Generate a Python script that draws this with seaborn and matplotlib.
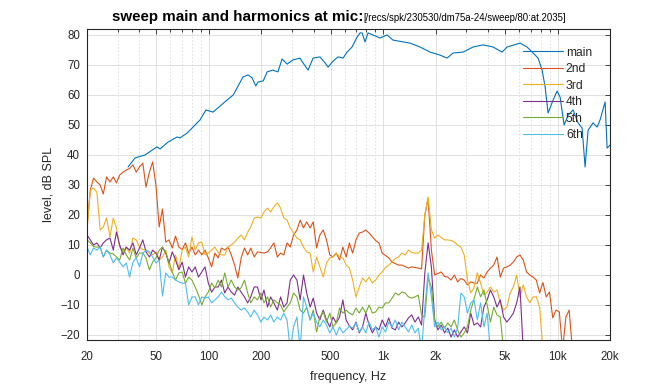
import matplotlib
matplotlib.use("Agg")
import matplotlib.pyplot as plt
import seaborn as sns
import pandas as pd
import numpy as np

# 1/16-octave frequency grid used by the harmonic traces, Hz
freq_grid = [
    20.0, 20.9, 21.8, 22.8, 23.8, 24.8, 25.9, 27.1, 28.3, 29.5, 30.8, 32.2, 33.6, 35.1, 36.7, 38.3,
    40.0, 41.8, 43.6, 45.6, 47.6, 49.7, 51.9, 54.2, 56.6, 59.1, 61.7, 64.4, 67.3, 70.3, 73.4, 76.6,
    80.0, 83.5, 87.2, 91.1, 95.1, 99.3, 103.7, 108.3, 113.1, 118.1, 123.4, 128.8, 134.5, 140.5, 146.7, 153.2,
    160, 167, 174, 182, 190, 199, 207, 217, 226, 236, 247, 258, 269, 281, 293, 306,
    320, 334, 349, 364, 381, 397, 415, 433, 453, 473, 494, 515, 538, 562, 587, 613,
    640, 668, 698, 729, 761, 795, 830, 867, 905, 945, 987, 1031, 1076, 1124, 1174, 1226,
    1280, 1337, 1396, 1458, 1522, 1590, 1660, 1733, 1810, 1890, 1974, 2061, 2153, 2248, 2348, 2451,
    2560, 2673, 2792, 2915, 3044, 3179, 3320, 3467, 3620, 3781, 3948, 4123, 4305, 4496, 4695, 4903,
    5120, 5347, 5583, 5831, 6089, 6358, 6640, 6934, 7241, 7561, 7896, 8246, 8611, 8992, 9390, 9806,
    10240, 10693, 11167, 11661, 12177, 12717, 13280, 13868, 14482, 15123, 15792, 16491, 17222, 17984, 18780, 19612,
]

# main response, own frequency points
main_freq = [
    34.4, 37.7, 43.0, 50.4, 52.5, 58.3, 65.7, 68.3, 75.0, 81.1, 89.0, 96.3, 105.7, 115.9, 127, 138,
    145, 157, 168, 177, 186, 191, 205, 216, 233, 249, 263, 281, 304, 333, 347, 371, 396, 434, 464,
    483, 516, 551, 589, 620, 663, 708, 737, 757, 787, 819, 875, 959, 1052, 1139, 1300, 1426, 1627,
    1858, 2120, 2325, 2517, 2872, 3278, 3742, 4270, 4808, 5137, 5862, 6100, 6690, 7244, 7738, 8158,
    8488, 8830, 9432, 9944, 10346, 10910, 11502, 12288, 13122, 13836, 14392, 14976, 15996, 16866,
    17548, 18746, 19250, 20000,
]
main_level = [
    36.0, 39.0, 40.0, 42.7, 42.0, 44.3, 46.0, 45.7, 47.3, 49.3, 51.7, 55.0, 54.3, 56.3, 58.3, 60.0,
    62.3, 66.0, 66.7, 65.7, 63.0, 64.3, 64.7, 67.7, 68.3, 67.7, 72.0, 70.3, 71.7, 72.3, 70.7, 68.3,
    72.3, 72.7, 70.7, 69.3, 71.3, 72.7, 72.3, 74.3, 76.0, 79.3, 80.7, 80.7, 77.7, 80.7, 80.0, 79.0,
    80.0, 78.3, 77.7, 77.3, 76.0, 74.3, 73.3, 72.3, 74.0, 74.3, 76.0, 76.7, 76.0, 74.3, 76.0, 77.0,
    77.3, 76.0, 74.0, 72.3, 68.3, 62.7, 54.0, 58.3, 61.3, 59.3, 50.0, 53.3, 55.0, 50.7, 49.0, 36.0,
    48.3, 50.7, 49.3, 51.7, 57.7, 42.3, 43.3,
]

# harmonics, values on freq_grid from 20 Hz up (-25 = below the axis)
h2_level = [
    16, 28.3, 32.3, 31, 30, 27, 32.7, 31, 32.7, 30.7,
    33.3, 34.3, 35, 35.5, 36.7, 34.3, 36, 37.3, 29.3, 34.3,
    37.7, 30, 16, 22, 11, 11.7, 9, 13, 9.3, 8.5,
    10.7, 7.3, 9.3, 6.7, 8.3, 6.7, 8.3, 5.7, 2.7, 7.3,
    5.7, 9, 8.3, 9.3, 6.7, 3.3, -1, 5.7, 9, 6.7,
    9, 6, 7.7, 7.5, 7.3, 7.7, 9, 10.7, 6, 7.3,
    6.7, 10.7, 9.3, 13.3, 15, 18.3, 15.7, 17.7, 15.7, 17.7,
    9, 13.3, 15, 11.7, 6.7, 6, 7.3, 5, 9.3, 6,
    10.7, 7.3, 11.7, 14, 14.3, 15, 14, 12.7, 11.5, 10.7,
    7.3, 6.5, 5.7, 4.3, 3.8, 3.3, 3.3, 2.8, 2.3, 2.7,
    2.5, 2.3, 2, 20, 25.5, 8.3, 0, 0.5, 1, -0.5,
    -0.7, -1.7, 0, -2.3, -1.2, -1.7, -3.3, -2.3, -2.7, -2.7,
    0, -1, 1, 2.3, 3.3, 6, -0.7, 2.3, 2.7, 3.3,
    4.3, 6, 6.7, 5, 1, 0, -0.7, -1.7, -6, -2.5,
    -7.3, -5.7, -14.3, -11.7, -12.3, -25, -14, -11.7, -25,
]
h3_level = [
    15, 28.3, 29, 27.5, 15, 16, 19, 12.7, 19, 15.7,
    9.3, 7.7, 9.3, 7.3, 12.3, 11.7, 9.3, 8.5, 8.3, 7.3,
    6.7, 7.7, 5, 6, 8.3, 2.7, 0.7, 6.7, 2.3, 8.3,
    9.3, 6, 12.7, 8.3, 10.7, 11, 6.7, 7.3, 8.3, 9.3,
    7.5, 6.7, 6.7, 9.3, 10, 11, 12.3, 13.3, 11.7, 14.3,
    16, 19, 19.3, 19, 21, 22.3, 21, 22.7, 24, 22.3,
    19, 18.3, 15.7, 14, 12.3, 11.7, 9.3, 7.7, 7.3, 1,
    6, 2.7, -0.7, 4, 5.7, 6, 7.3, 6, 5.7, 3.3,
    2.3, -1.7, -7.3, -4, -1, -2.3, -0.7, -2.7, -1.7, 0,
    1, 2.5, 3.3, 4.3, 5.5, 6, 7.3, 6.7, 8.3, 7.5,
    7.3, 7.3, 8.3, 20, 26, 15, 12.3, 13.3, 12.5, 11.7,
    11.7, 11.5, 11, 10, 9.3, 6.7, -1.7, -6, -4.3, 0.7,
    -2.7, -6.7, -5.7, -4, -5.7, -5, -9.3, -11.7, -10.7, -6,
    -4, 0, -7.3, -3.3, -7.3, -9.3, -7.3, -7.3, -10.7, -25,
]
h4_level = [
    13.3, 11.7, 10, 10.7, 9, 10.7, 11.7, 12.3, 8.3, 14.3,
    10, 6.7, 9.3, 8.3, 10.7, 6.7, 9, 11.7, 7.7, 6,
    8.3, 7.3, 5, 9.3, 7.3, 4, 7.7, 5, 1.7, 4.3,
    -0.7, 2.7, 1, 2.7, -0.7, 1, 2.7, -2.7, -5.7, -4,
    -4, -1.7, -6, -4, -5.7, -6.7, -4, -5.7, -7.3, -9.3,
    -7.3, -4, -4, -8.3, -5, -10.7, -7.3, -9.3, -11.7, -7.3,
    -10.7, -9.3, -1.7, 0, -1.7, -8.3, 0, -6, -10.7, -7.7,
    -12.7, -15, -11.7, -15, -17.3, -14, -16, -14, -8.3, -15,
    -17, -18.3, -15.7, -19.3, -17.3, -12.7, -16.7, -19.3, -17.3, -18.3,
    -15, -17.3, -14.3, -17.7, -18.3, -15.7, -17.3, -16, -14.3, -13.3,
    -15.7, -14, -16.7, 0.7, 10.7, 2.7, -15, -18.3, -16.7, -19.3,
    -17.7, -20.7, -18.3, -20.7, -19, -17.3, -19.3, -12.7, -16.7, -16,
    -17.3, -10.7, -8.3, -5, -7.3, -10.7, -8.3, -14, -15.7, -14.3,
    -12.7, -9.3, -4, -25,
]
h5_level = [
    11.7, 10.7, 9.5, 9.3, 9.3, 6, 8.3, 7.3, 7, 6,
    5, 9, 6.7, 5, 9, 5.7, 7.3, 7.3, 5.7, 1.7,
    4.3, 5.7, 8.3, 9.3, 7.3, 4.3, 1, -1.7, 0.7, 1,
    -2.7, -0.7, -1.7, -4, -6.7, -10, -7.3, -5.7, -2.7, -4.3,
    -1.7, -4, 0.7, -4, -1.7, -4, -5, -4.3, -1.7, -6,
    -9.3, -7.3, -8.3, -6, -9.3, -7.3, -10.7, -8.3, -9.3, -10,
    -12.3, -10.7, -9.3, -6, -7.3, -11.7, -12.7, -10.7, -15, -11.7,
    -19, -14, -12.3, -15.7, -12.7, -17.3, -16, -11, -12.7, -11.7,
    -12.7, -13.3, -11, -12.7, -10.7, -12.7, -10, -12.7, -12.3, -10.7,
    -11, -9.3, -9.3, -7.7, -6, -6.7, -5.7, -6, -7.3, -7.7,
    -7.3, -6.7, -13.3, -14, -1, -4, -15, -17.3, -15.7, -17.7,
    -16, -17.3, -15, -18.3, -20.7, -19.3, -17.3, -11.7, -8, -4,
    -7.3, -5, -10, -15.7, -10.7, -13.3, -14, -25,
]
h6_level = [
    9.3, 6.7, 9, 8.3, 9.3, 6, 8.3, 6.7, 4, 5.7,
    4.3, 2.7, 4, -0.7, 4.3, 5.7, 2.7, 7.3, 8.3, 7.7,
    6, 4, 5, -7, 0.7, -0.7, -0.7, -1.7, -2.3, -2.7,
    -2.7, -10, -7.3, -7.3, -10, -7.3, -7.7, -7.3, -9.3, -8.3,
    -7.3, -5.7, -7.3, -8.3, -7.7, -9.3, -10.7, -11.7, -11, -12.3,
    -14, -11.7, -13.3, -15.7, -14, -15, -13.3, -15.7, -14, -15,
    -12.7, -15, -25, -17.3, -14, -25, -7.3, -10.7, -15, -12.7,
    -15.7, -17.3, -15, -16.7, -19.3, -17.3, -20, -17.3, -19.3, -18.3,
    -17, -17.7, -16, -19, -17.3, -19.3, -15.7, -18.3, -17.3, -20.7,
    -17.3, -19, -15.7, -17.3, -15, -18.3, -15.7, -17.3, -19, -16.7,
    -19.3, -17.7, -25, -10.7, 0.7, -7.3, -17.3, -15.7, -18.3, -17.3,
    -19.3, -17.7, -20.7, -17.7, -6, -7.3, -12.7, -9.3, -8.3, -15,
    -9.3, -17.3, -12.7, -25,
]

series_names = ["main", "2nd", "3rd", "4th", "5th", "6th"]
colors = ["#0072BD", "#D95319", "#EDB120", "#7E2F8E", "#77AC30", "#4DBEEE"]

frames = [pd.DataFrame({"freq": main_freq, "level": main_level, "series": "main"})]
for name, vals in zip(series_names[1:], [h2_level, h3_level, h4_level, h5_level, h6_level]):
    frames.append(pd.DataFrame({"freq": freq_grid[:len(vals)], "level": vals, "series": name}))
df = pd.concat(frames, ignore_index=True)

sns.set_style("white")
plt.rcParams["font.family"] = ["Liberation Sans", "DejaVu Sans"]

fig = plt.figure(figsize=(6.72, 3.84), dpi=100)
ax = fig.add_axes([87 / 672, 1 - 340 / 384, 523 / 672, 311 / 384])
ax.set_xscale("log")

sns.lineplot(data=df, x="freq", y="level", hue="series", hue_order=series_names,
             palette=dict(zip(series_names, colors)), estimator=None, sort=False,
             lw=0.8, legend=False, ax=ax)

ax.set_xlim(20, 20000)
ax.set_ylim(-21.67, 82)

xt = [20, 50, 100, 200, 500, 1000, 2000, 5000, 10000, 20000]
ax.set_xticks(xt)
ax.set_xticklabels(["20", "50", "100", "200", "500", "1k", "2k", "5k", "10k", "20k"])
minor = [m * d for d in [10, 100, 1000, 10000] for m in range(2, 10)
         if 20 < m * d < 20000 and m * d not in xt]
ax.set_xticks(minor, minor=True)
ax.set_xticklabels([], minor=True)
ax.set_yticks(range(-20, 90, 10))

ax.grid(True, which="major", color="#dcdcdc", lw=0.6)
ax.grid(True, which="minor", axis="x", color="#d6d6d6", lw=0.5, ls=(0, (2.5, 2.5)))
ax.set_axisbelow(True)

for s in ax.spines.values():
    s.set_color("#262626")
    s.set_linewidth(0.8)
ax.tick_params(which="both", direction="in", top=True, right=True, colors="#262626",
               labelsize=8.3, width=0.6)
ax.tick_params(which="major", length=3.5)
ax.tick_params(which="minor", length=2)
ax.tick_params(axis="x", which="major", pad=8)
ax.tick_params(axis="y", which="major", pad=5)

ax.set_xlabel("frequency, Hz", fontsize=9, color="#262626", labelpad=6)
ax.set_ylabel("level, dB SPL", fontsize=9, color="#262626", labelpad=4)

leg = ax.legend(ax.lines[:6], series_names, loc="upper left", bbox_to_anchor=(0.8337, 0.943),
                frameon=False, fontsize=8.7, handlelength=3.3, handletextpad=0.25,
                labelspacing=0.37, borderpad=0, borderaxespad=0)

fig.text(363 / 672, 1 - 21 / 384, "sweep main and harmonics at mic:", ha="right", va="baseline",
         fontsize=10.9, fontweight="bold", color="black")
fig.text(363 / 672, 1 - 21 / 384, "[/recs/spk/230530/dm75a-24/sweep/80:at.2035]", ha="left",
         va="baseline", fontsize=6.9, color="black")

fig.savefig("out.png", dpi=100)
